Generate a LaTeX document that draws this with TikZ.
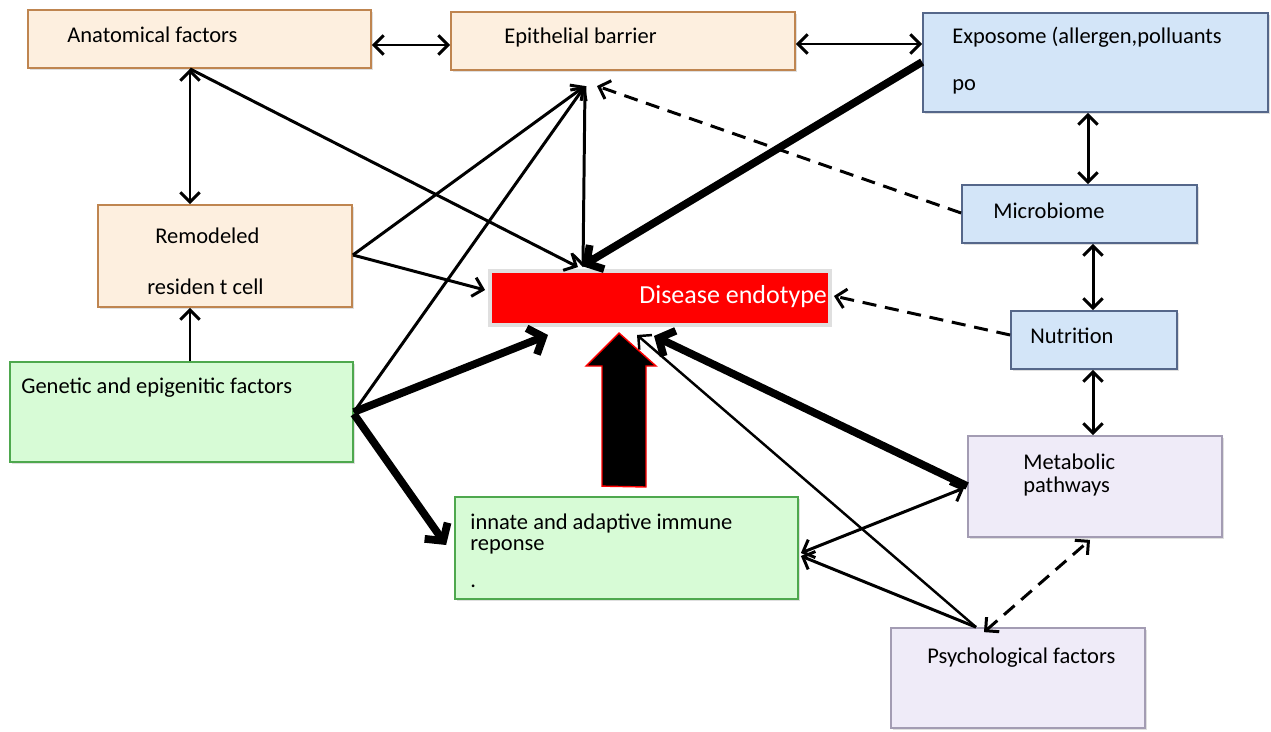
\documentclass[tikz,border=0pt]{standalone}
\usepackage{fontspec}
\setmainfont{Carlito}
\usetikzlibrary{arrows.meta,fit,shadows,calc}
\definecolor{creamF}{HTML}{FDEFDF}
\definecolor{creamD}{HTML}{BF8550}
\definecolor{blueF}{HTML}{D3E5F8}
\definecolor{blueD}{HTML}{55678A}
\definecolor{greenF}{HTML}{D7FBD6}
\definecolor{greenD}{HTML}{4EA84E}
\definecolor{lavF}{HTML}{EFEBF8}
\definecolor{lavD}{HTML}{A39CB3}
\tikzset{
  boxbase/.style={inner sep=0pt, line width=1pt, drop shadow={shadow xshift=1.2pt, shadow yshift=-1.2pt, opacity=0.25}},
  cream/.style={boxbase, fill=creamF, draw=creamD},
  bluebox/.style={boxbase, fill=blueF, draw=blueD},
  greenbox/.style={boxbase, fill=greenF, draw=greenD},
  lavbox/.style={boxbase, fill=lavF, draw=lavD},
  redbox/.style={inner sep=0pt, fill=red, draw=gray!25, line width=2.2pt, drop shadow={shadow xshift=1.2pt, shadow yshift=-1.2pt, opacity=0.2}},
  lbl/.style={anchor=west, inner sep=0pt, font=\fontsize{12.8}{14.5}\selectfont},
  thin/.style={line width=1.7pt, -{Straight Barb[length=5.5pt,width=11pt]}},
  thinb/.style={line width=1.7pt, {Straight Barb[length=5.5pt,width=11pt]}-{Straight Barb[length=5.5pt,width=11pt]}},
  thick/.style={line width=4.4pt, -{Straight Barb[length=7pt,width=16pt]}},
  dashedarrow/.style={line width=1.7pt, dash pattern=on 8pt off 5pt, -{Straight Barb[length=5.5pt,width=11pt]}},
  dashedboth/.style={line width=1.7pt, dash pattern=on 8pt off 5pt, {Straight Barb[length=5.5pt,width=11pt]}-{Straight Barb[length=5.5pt,width=11pt]}},
}
\begin{document}
\begin{tikzpicture}[x=0.02cm, y=-0.02cm]
\useasboundingbox (0,0) rectangle (1271,731);
% boxes
\node[cream, fit={(28,10) (371,68)}] (anat) {};
\node[cream, fit={(451,12) (795,70)}] (epi) {};
\node[bluebox, fit={(923,13) (1268,112)}] (expo) {};
\node[bluebox, fit={(962,185) (1197,243)}] (micro) {};
\node[bluebox, fit={(1011,311) (1177,369)}] (nutr) {};
\node[cream, fit={(98,205) (352,307)}] (remod) {};
\node[redbox, fit={(490,271) (830,325)}] (dis) {};
\node[greenbox, fit={(10,362) (353,462)}] (gen) {};
\node[greenbox, fit={(455,497) (798,599)}] (innate) {};
\node[lavbox, fit={(968,436) (1222,537)}] (metab) {};
\node[lavbox, fit={(891,628) (1145,728)}] (psych) {};
% labels
\node[lbl] (tAnat) at (67,35) {Anatomical factors};
\node[lbl] (tEpi) at (504,37) {Epithelial barrier};
\node[lbl] (tExpo) at (952,37) {Exposome (allergen,polluants};
\node[lbl] (tPo) at (952,87) {po};
\node[lbl] (tMicro) at (993,211) {Microbiome};
\node[lbl] (tNutr) at (1030,336) {Nutrition};
\node[lbl] (tRem1) at (155,236) {Remodeled};
\node[lbl] (tRem2) at (147,287) {residen t cell};
\node[lbl, text=white, font=\fontsize{14.8}{16}\selectfont] (tDis) at (639,297) {Disease endotype};
\node[lbl] (tGen) at (21,388) {Genetic and epigenitic factors};
\node[lbl] (tInn1) at (470,523) {innate and adaptive immune};
\node[lbl] (tInn2) at (470,547) {reponse};
\node[lbl] (tInn3) at (470,586) {.};
\node[lbl] (tMet1) at (1023,462) {Metabolic};
\node[lbl] (tMet2) at (1023,486) {pathways};
\node[lbl] (tPsy) at (927,658) {Psychological factors};
% free ends
\coordinate (epiP) at (585,86);
\coordinate (epiQ) at (597,86);
% connectors
\draw[thinb] (anat.east |- 0,45) -- (epi.west |- 0,45);
\draw[thinb] (epi.east |- 0,44) -- (expo.west |- 0,44);
\draw[thinb] (anat.south -| 190,0) -- (remod.north -| 190,0);
\draw[thin] (gen.north -| 190,0) -- (remod.south -| 190,0);
\draw[thin] (anat.south -| 190,0) -- ($(dis.north -| 578,0)+(0,-2)$);
\draw[thin] (remod.east |- 0,255) -- (epiP);
\draw[thin] (gen.east |- 0,412) -- (epiP);
\draw[thin] (epiP) -- ($(dis.north -| 583,0)+(0,-2)$);
\draw[dashedarrow] (micro.west |- 0,213) -- (epiQ);
\draw[thick] (expo.west |- 0,62) -- ($(dis.north -| 582,0)+(0,-3)$);
\draw[thin] (remod.east |- 0,255) -- ($(dis.west |- 0,290)+(-3,0)$);
\draw[thick] (gen.east |- 0,412) -- ($(dis.south -| 548,0)+(0,8)$);
\draw[thick] (gen.east |- 0,414) -- ($(innate.west |- 0,545)+(-8,0)$);
\draw[dashedarrow] (nutr.west |- 0,335) -- ($(dis.east |- 0,296)+(2,0)$);
\draw[thinb] (expo.south -| 1088,0) -- (micro.north -| 1088,0);
\draw[thinb] (micro.south -| 1093,0) -- (nutr.north -| 1093,0);
\draw[thinb] (nutr.south -| 1093,0) -- (metab.north -| 1093,0);
\draw[thick] (metab.west |- 0,486) -- ($(dis.south -| 654,0)+(0,9)$);
\draw[thinb] ($(metab.west |- 0,488)+(-3,0)$) -- ($(innate.east |- 0,553)+(2,0)$);
\draw[thin] (psych.north -| 976,0) -- ($(innate.east |- 0,556)+(2,0)$);
\draw[line width=1.4pt, -{Straight Barb[length=5.5pt,width=11pt]}] (psych.north -| 976,0) -- ($(dis.south -| 637,0)+(0,8)$);
\draw[dashedboth] ($(psych.north -| 984,0)+(0,5)$) -- ($(metab.south -| 1090,0)+(0,2)$);
% block arrow from immune response to disease endotype
\draw[fill=black, draw=red, line width=0.8pt] (innate.north -| 602,0) ++(0,-10) coordinate (bA)
  -- (602,366) -- (586,366) -- (619,333) -- (656,366) -- (646,366) -- (646,487) -- cycle;
\end{tikzpicture}
\end{document}
